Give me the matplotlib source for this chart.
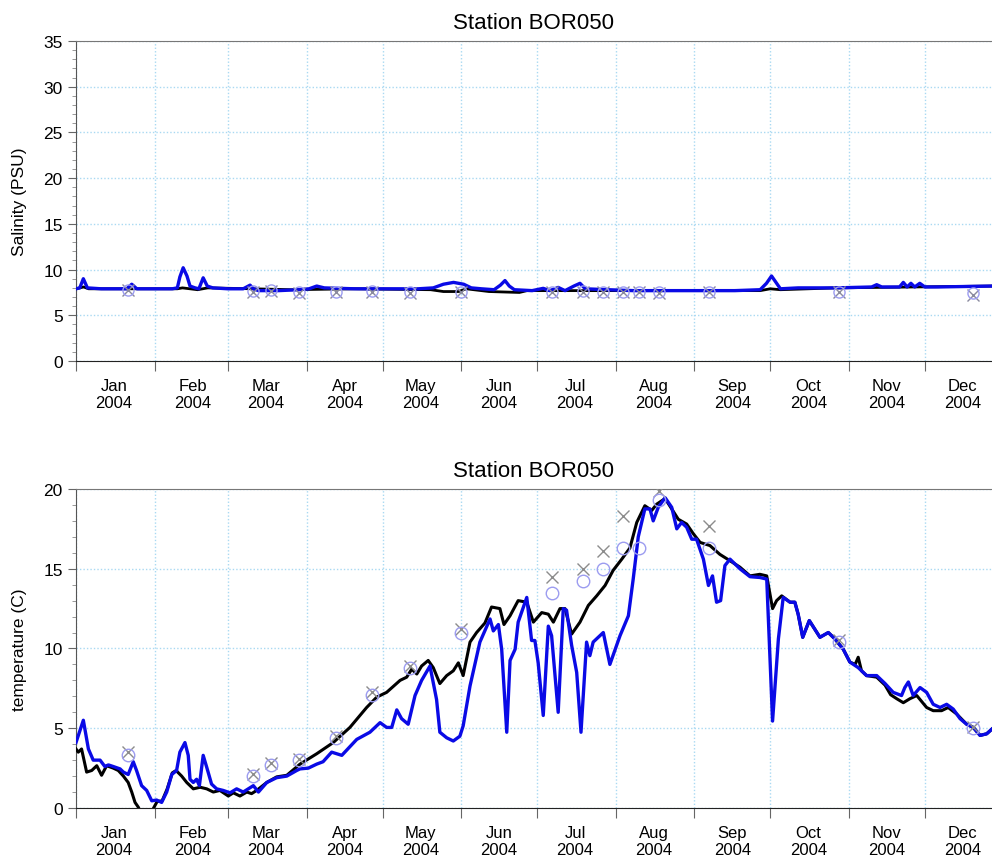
import datetime

import numpy as np
from matplotlib import pyplot as plt
from matplotlib import dates as mdates
from matplotlib.ticker import MultipleLocator, NullFormatter

plt.rcParams["font.family"] = ["Liberation Sans", "DejaVu Sans"]

START = mdates.date2num(datetime.date(2004, 1, 1))
TITLE = "Station BOR050"

# sample dates (days after 1 Jan 2004)
obs_days = [20.5, 70, 77, 88, 102.6, 116.8, 132, 152, 188, 200, 208, 216, 222, 230, 250, 301, 354]

# salinity
sal_obs_x = [7.8, 7.6, 7.7, 7.4, 7.5, 7.6, 7.4, 7.5, 7.5, 7.6, 7.5, 7.5, 7.5, 7.4, 7.5, 7.5, 7.2]
sal_obs_o = [7.8, 7.7, 7.8, 7.5, 7.6, 7.7, 7.5, 7.6, 7.6, 7.7, 7.6, 7.6, 7.6, 7.5, 7.6, 7.6, 7.4]

sal_blue_days = [0, 1.5, 2.9, 4.5, 10, 20, 22, 24, 30, 38, 40, 41, 42.3, 43.8, 45, 47, 48.5, 50.2, 51.8,
                 54, 60, 66, 68.7, 70, 72, 80, 88, 92, 95, 98, 110, 125, 135, 141, 145, 149, 153, 156,
                 160, 165, 167.5, 169.3, 171, 173, 180, 184.4, 187, 190.3, 193, 196.5, 198.9, 201, 210,
                 220, 240, 260, 270, 272.5, 274.5, 276.5, 278, 285, 300, 314, 316, 318, 325, 326.5, 328,
                 329.5, 331, 333, 335, 340, 361.5]
sal_blue = [7.9, 8.0, 9.0, 8.0, 7.9, 7.9, 8.4, 7.9, 7.9, 7.9, 8.0, 9.2, 10.2, 9.3, 8.2, 8.0, 7.9, 9.1, 8.2,
            8.0, 7.9, 7.9, 8.3, 7.9, 7.7, 7.7, 7.8, 7.9, 8.2, 8.0, 7.9, 7.9, 7.9, 8.0, 8.4, 8.6, 8.4, 8.0,
            7.9, 7.8, 8.3, 8.8, 8.2, 7.8, 7.7, 7.95, 7.7, 8.05, 7.7, 8.2, 8.5, 7.9, 7.8,
            7.7, 7.7, 7.7, 7.8, 8.5, 9.3, 8.5, 7.9, 8.0, 8.0, 8.1, 8.35, 8.1, 8.1, 8.6, 8.1,
            8.5, 8.1, 8.5, 8.1, 8.1, 8.2]

sal_black_days = [0, 3, 5, 40, 42, 48, 52, 70, 85, 110, 140, 145, 151, 154, 163, 175, 178, 195, 205,
                  270, 274, 278, 300, 361.5]
sal_black = [7.9, 8.1, 7.9, 7.9, 8.0, 7.8, 8.0, 7.9, 7.8, 7.9, 7.8, 7.6, 7.6, 7.9, 7.6, 7.5, 7.7, 7.7, 7.7,
             7.7, 7.9, 7.8, 8.0, 8.2]

# temperature
tmp_obs_x = [3.5, 2.1, 2.8, 3.1, 4.5, 7.3, 8.9, 11.2, 14.5, 15.0, 16.1, 18.3, np.nan, 19.9, 17.7, 10.5, 5.1]
tmp_obs_o = [3.3, 2.0, 2.7, 3.0, 4.4, 7.1, 8.8, 11.0, 13.5, 14.2, 15.0, 16.3, 16.3, 19.3, 16.3, 10.4, 5.0]

tmp_black_days = [0, 0.9, 2.2, 4.2, 6.2, 8.2, 10.1, 12.1, 14.7, 16.7, 18.7, 20.6, 22, 23.3, 24.6, 27, 30.3,
                  32, 34, 36, 38, 39.5, 41.7, 43.7, 46.3, 49, 51.6, 54.2, 56.8, 60.1, 62.1, 64.7, 67.4,
                  69.3, 71.3, 75.3, 79.2, 83.2, 88.4, 95, 101.5, 108.1, 114.7, 118.7, 122.6, 127.9, 130.5,
                  132.5, 134.5, 136.4, 139, 141, 143.6, 146.3, 148.9, 150.9, 152.8, 155.5, 158.1, 161.4,
                  164, 167.3, 168.9, 171.3, 174.5, 177.9, 180.5, 183.8, 186.4, 188.4, 191, 193, 195.6,
                  198.9, 202.2, 205.5, 208.8, 212, 215.4, 218.6, 221.3, 224.5, 227.2, 229.2, 232.5, 235.1,
                  237.7, 241, 243.6, 246.3, 250.2, 254.1, 258.1, 262, 266, 269.9, 272.6, 274.9, 276.5,
                  278.5, 281.8, 283.7, 285, 286.8, 289.4, 291.6, 293.6, 296.9, 299.5, 302.8, 305.4, 307.5,
                  308.7, 310, 312, 316, 319.3, 321.5, 323.9, 326.5, 329.1, 331.8, 335.7, 338.3, 341.6,
                  344.2, 347.5, 351.5, 354.1, 356.8, 359.4, 361.5]
tmp_black = [3.7, 3.5, 3.7, 2.25, 2.35, 2.65, 2.05, 2.65, 2.5, 2.35, 2.0, 1.6, 1.0, 0.35, 0.05, -0.8, -0.1,
             0.4, 0.45, 1.2, 2.2, 2.35, 2.0, 1.6, 1.2, 1.3, 1.2, 1.0, 1.1, 0.75, 0.95, 0.75, 1.0,
             0.9, 1.1, 1.6, 1.95, 2.05, 2.75, 3.4, 4.1, 5.05, 6.3, 6.95, 7.25, 8.0, 8.2,
             8.7, 8.4, 8.9, 9.25, 8.8, 7.8, 8.3, 8.6, 9.1, 8.3, 10.4, 11.0, 11.6,
             12.6, 12.5, 11.5, 12.05, 13.0, 12.9, 11.65, 12.25, 12.15, 11.65, 12.5, 12.5, 10.9,
             11.65, 12.7, 13.3, 13.95, 14.9, 15.6, 16.3, 17.9, 18.95, 18.65, 19.05, 19.4, 18.75,
             18.1, 17.8, 17.2, 16.65, 16.45, 15.9, 15.5, 15.1, 14.55, 14.65, 14.55, 12.5, 13.0,
             13.3, 12.9, 12.9, 12.15, 10.7, 11.75, 11.2, 10.7, 11.0, 10.6, 9.95, 9.15, 9.0,
             9.45, 8.6, 8.3, 8.2, 7.7, 7.1, 6.85, 6.6, 6.85, 7.05, 6.3, 6.1, 6.1,
             6.3, 5.9, 5.25, 5.05, 4.55, 4.65, 4.95]

tmp_blue_days = [0, 2.9, 4.9, 6.8, 9.5, 11.4, 12.8, 14.7, 17.4, 18.7, 20.6, 22.6, 23.9, 25.9, 27.9, 29.9,
                 31.8, 33.8, 35.8, 37.8, 39.7, 41, 43, 44.3, 45, 46.3, 47.6, 48.7, 50.2, 51.6, 53.5, 55.5,
                 58.1, 60.8, 63.4, 66, 68, 70, 72, 75.3, 79.2, 83.2, 87.1, 88.4, 91.7, 95, 97.5, 100.9,
                 104.9, 110.8, 116, 120, 122.6, 124.6, 126.6, 128.5, 131.1, 133.8, 136.4, 139.7, 142.3,
                 143.6, 146.3, 148.9, 151.5, 152.8, 155.5, 159.4, 163.4, 164.7, 166.7, 168, 170, 171.3,
                 173.3, 174.5, 177.9, 179.8, 181.1, 182.4, 184.4, 186.4, 187.7, 190.3, 192.3, 193.6,
                 195.6, 197.6, 199.3, 201.5, 202.8, 204.1, 208.1, 210.7, 214.7, 218, 219.9, 221.9, 224.5,
                 226.5, 227.8, 229.8, 232.5, 235.1, 237.1, 239, 241, 243, 244.9, 247.6, 249.6, 251.2,
                 252.8, 254.4, 256.1, 258.1, 262, 266, 269.9, 272.6, 274.9, 277.2, 279.1, 281.8, 283.7,
                 285, 286.8, 289.4, 291.6, 293.6, 296.9, 299.5, 302.8, 305.4, 308.7, 312, 316, 319.3,
                 322.5, 325.8, 327.1, 328.5, 330.4, 333.1, 335.7, 338.3, 341, 343.6, 346.2, 348.9, 351.5,
                 354.1, 356.8, 359.4, 361.5]
tmp_blue = [4.1, 5.5, 3.7, 3.0, 3.0, 2.6, 2.7, 2.6, 2.45, 2.25, 2.1, 2.9, 2.35, 1.4, 1.1, 0.45,
            0.5, 0.35, 1.0, 2.1, 2.35, 3.5, 4.1, 3.3, 1.8, 1.6, 1.8, 1.4, 3.3, 2.55, 1.5, 1.2,
            1.1, 0.95, 1.2, 1.0, 1.2, 1.4, 1.0, 1.6, 1.9, 2.0, 2.35, 2.45, 2.5, 2.75, 2.9, 3.5,
            3.3, 4.3, 4.75, 5.35, 5.05, 5.05, 6.15, 5.6, 5.25, 7.05, 8.0, 8.9, 6.8,
            4.75, 4.4, 4.2, 4.5, 5.15, 7.65, 10.4, 11.85, 11.1, 11.5, 9.95, 4.75, 9.25,
            9.95, 11.65, 13.2, 10.5, 10.5, 9.1, 5.8, 11.4, 10.8, 6.0, 12.5, 12.4,
            10.2, 8.5, 4.75, 10.4, 9.55, 10.4, 11.0, 9.0, 10.8, 12.05, 14.35, 17.0, 18.75,
            18.75, 18.0, 18.85, 19.45, 18.85, 17.5, 17.9, 17.6, 16.85, 16.85, 15.6, 13.95, 14.55,
            12.9, 13.0, 15.2, 15.6, 15.0, 14.5, 14.45, 14.35, 5.45, 10.6, 13.2, 12.9, 12.9,
            12.15, 10.7, 11.75, 11.2, 10.7, 11.0, 10.6, 9.95, 9.15, 8.8, 8.3, 8.3, 7.8,
            7.25, 7.05, 7.55, 7.9, 7.05, 7.55, 7.25, 6.5, 6.3, 6.5, 6.2, 5.6, 5.25,
            5.05, 4.55, 4.65, 4.95]

GRID = "#a9d9f2"


def style(ax, ymax, ylabel):
    ax.set_xlim(START, START + 361.5)
    ax.set_ylim(0, ymax)
    ax.xaxis.set_major_locator(mdates.MonthLocator())
    ax.xaxis.set_major_formatter(NullFormatter())
    ax.xaxis.set_minor_locator(mdates.MonthLocator(bymonthday=16))
    ax.xaxis.set_minor_formatter(mdates.DateFormatter("%b\n%Y"))
    ax.yaxis.set_major_locator(MultipleLocator(5))
    ax.yaxis.set_minor_locator(MultipleLocator(1))
    ax.tick_params(axis="x", which="major", length=7, color="#666666", direction="out")
    ax.tick_params(axis="x", which="minor", length=0, pad=12, labelsize=12)
    ax.tick_params(axis="y", which="major", length=6, color="#666666", labelsize=12.5)
    ax.tick_params(axis="y", which="minor", length=3, color="#888888")
    ax.grid(True, which="major", color=GRID, linestyle=(0, (1, 1.5)), linewidth=1)
    for label in ax.get_xticklabels(which="minor"):
        label.set_horizontalalignment("center")
        label.set_linespacing(1.2)
    ax.spines["right"].set_visible(False)
    ax.spines["top"].set_color("#777777")
    ax.spines["left"].set_color("#555555")
    ax.spines["bottom"].set_color("#222222")
    ax.set_title(TITLE, fontsize=16, pad=9)
    ax.set_ylabel(ylabel, fontsize=12.5, labelpad=12)


fig = plt.figure(figsize=(9.92, 8.62), dpi=100)
ax1 = fig.add_axes([0.0766, 0.58, 0.9234, 0.3713])
ax2 = fig.add_axes([0.0766, 0.0615, 0.9234, 0.3701])

obs_x = START + np.array(obs_days)

ax1.plot(START + np.array(sal_black_days), sal_black, color="black", lw=2, zorder=3)
ax1.plot(START + np.array(sal_blue_days), sal_blue, color="#0a0ae6", lw=2.4, zorder=4)
ax1.plot(obs_x, sal_obs_x, "x", color="#8a8a9e", ms=8, mew=1, zorder=5)
ax1.plot(obs_x, sal_obs_o, "o", mfc="none", mec="#9c9cf0", ms=8, mew=1, zorder=5)
style(ax1, 35, "Salinity (PSU)")

ax2.plot(START + np.array(tmp_black_days), tmp_black, color="black", lw=2.2, zorder=3)
ax2.plot(START + np.array(tmp_blue_days), tmp_blue, color="#0a0ae6", lw=2.4, zorder=4)
ax2.plot(obs_x, tmp_obs_x, "x", color="#8c8c8c", ms=9, mew=1, zorder=5)
ax2.plot(obs_x, tmp_obs_o, "o", mfc="none", mec="#9c9cf0", ms=9, mew=1, zorder=5)
style(ax2, 20, "temperature (C)")

plt.savefig("out.png", dpi=100)
